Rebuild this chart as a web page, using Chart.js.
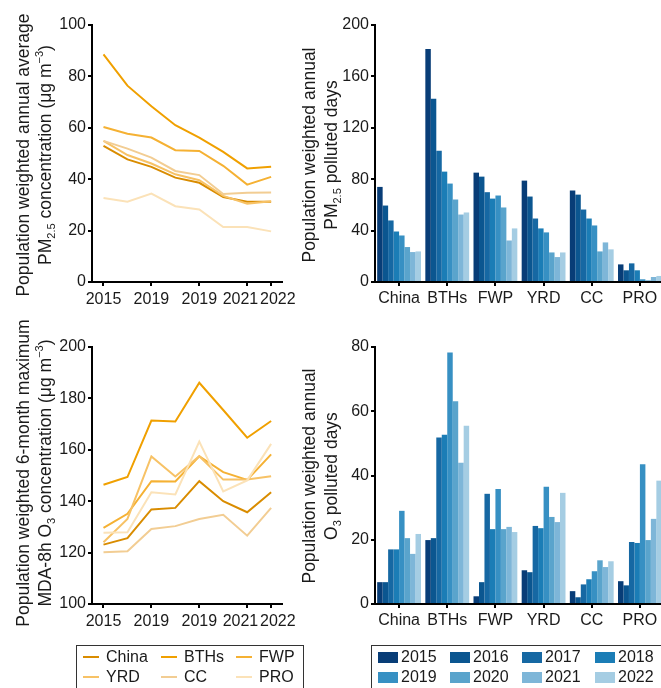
<!DOCTYPE html>
<html>
<head>
<meta charset="utf-8">
<title>PM2.5 and O3 trends</title>
<script src="https://cdn.jsdelivr.net/npm/chart.js"></script>
<style>
  html, body { margin: 0; padding: 0; background: #fff; }
  body { width: 661px; height: 688px; overflow: hidden; position: relative;
         font-family: "Liberation Sans", Arial, sans-serif; color: #1a1a1a; }
  .box { position: absolute; }
  .ytitle { position: absolute; width: 360px; text-align: center; font-size: 17.5px;
            line-height: 22px; transform: translate(-50%, -50%) rotate(-90deg); white-space: nowrap; }
  .ytitle sub, .ytitle sup { font-size: 11px; line-height: 0; vertical-align: baseline; position: relative; }
  .ytitle sub { top: 0.35em; }
  .ytitle sup { top: -0.75em; }
  .legend { position: absolute; border: 1.5px solid #333; font-size: 16px; box-sizing: border-box; }
  .legend .item { position: absolute; height: 20px; display: flex; align-items: center; white-space: nowrap; }
  .legend .line { width: 16px; height: 2px; margin-right: 7px; }
  .legend .sq { width: 20px; height: 11px; margin-right: 3px; }
</style>
</head>
<body>

<div class="box" style="left:50px;top:10px;width:250px;height:300px"><canvas id="pmConc" width="250" height="300"></canvas></div>
<div class="box" style="left:335px;top:10px;width:329px;height:300px"><canvas id="pmDays" width="329" height="300"></canvas></div>
<div class="box" style="left:50px;top:332px;width:250px;height:300px"><canvas id="o3Conc" width="250" height="300"></canvas></div>
<div class="box" style="left:335px;top:332px;width:329px;height:300px"><canvas id="o3Days" width="329" height="300"></canvas></div>

<div class="ytitle" style="left:34px;top:155px">Population weighted annual average<br>PM<sub>2.5</sub> concentration (μg m<sup>−3</sup>)</div>
<div class="ytitle" style="left:320px;top:155px">Population weighted annual<br>PM<sub>2.5</sub> polluted days</div>
<div class="ytitle" style="left:34px;top:473px">Population weighted 6-month maximum<br>MDA-8h O<sub>3</sub> concentration (μg m<sup>−3</sup>)</div>
<div class="ytitle" style="left:320px;top:476px">Population weighted annual<br>O<sub>3</sub> polluted days</div>

<div class="legend" id="regionLegend" style="left:76px;top:645px;width:228px;height:60px"></div>
<div class="legend" id="yearLegend" style="left:371px;top:645px;width:310px;height:60px"></div>

<script>
const years = ['2015', '2016', '2017', '2018', '2019', '2020', '2021', '2022'];
const lineTickPos = [0, 2, 4, 6, 7];
const lineLabelPos = [0, 2, 4, 5.72, 7.28];
const lineTickLabels = ['2015', '2019', '2019', '2021', '2022'];
const regions = ['China', 'BTHs', 'FWP', 'YRD', 'CC', 'PRO'];
const regionColors = ['#d98c00', '#f0a000', '#f5b133', '#f7c266', '#f2cd93', '#fbe2b8'];
const yearColors = ['#083d77', '#0b5690', '#1668a3', '#1b7db6', '#3790c3', '#5aa4cc', '#7eb6d8', '#a5cde3'];

// population weighted PM2.5 concentration (ug/m3)
const pmChina = [53.0, 47.7, 44.8, 40.6, 38.6, 33.1, 31.2, 31.2];
const pmBTHs  = [88.6, 76.4, 68.4, 61.0, 56.2, 50.6, 44.2, 44.8];
const pmFWP   = [60.3, 57.7, 56.2, 51.3, 51.0, 45.2, 37.9, 40.9];
const pmYRD   = [54.9, 49.4, 46.1, 41.9, 39.6, 33.5, 30.5, 31.4];
const pmCC    = [54.9, 51.9, 48.4, 43.2, 41.6, 34.2, 34.7, 34.8];
const pmPRO   = [32.7, 31.2, 34.4, 29.5, 28.2, 21.4, 21.4, 19.7];

// MDA-8h O3 (ug/m3)
const o3China = [123.1, 125.6, 136.8, 137.4, 147.8, 140.0, 135.7, 143.5];
const o3BTHs  = [146.4, 149.4, 171.4, 171.0, 186.1, 175.5, 164.7, 171.2];
const o3FWP   = [129.6, 135.1, 147.8, 147.7, 157.5, 151.3, 148.3, 158.2];
const o3YRD   = [124.0, 133.1, 157.4, 149.6, 157.5, 148.4, 148.4, 149.7];
const o3CC    = [120.1, 120.5, 129.2, 130.3, 133.1, 134.7, 126.6, 137.4];
const o3PRO   = [127.7, 127.9, 143.5, 142.6, 163.2, 143.8, 148.1, 162.3];

// PM2.5 polluted days, per region, 2015..2022
const pmDaysChina = [74.0, 59.5, 47.9, 39.3, 36.2, 27.2, 23.3, 23.8];
const pmDaysBTHs  = [181.4, 142.6, 102.2, 85.9, 76.6, 64.2, 52.5, 54.1];
const pmDaysFWP   = [85.1, 82.0, 69.9, 64.9, 67.3, 58.0, 32.3, 41.7];
const pmDaysYRD   = [78.9, 66.5, 49.4, 41.7, 38.6, 23.0, 19.4, 23.0];
const pmDaysCC    = [71.2, 68.0, 56.4, 49.4, 44.0, 23.8, 30.8, 25.4];
const pmDaysPRO   = [13.7, 9.1, 14.5, 9.1, 2.1, 1.3, 3.9, 4.7];

// O3 polluted days
const o3DaysChina = [6.8, 6.8, 17.0, 17.0, 29.0, 20.5, 15.6, 21.8];
const o3DaysBTHs  = [19.9, 20.5, 51.8, 52.7, 78.3, 63.1, 44.0, 55.5];
const o3DaysFWP   = [2.4, 6.8, 34.3, 23.3, 35.8, 23.3, 24.0, 22.4];
const o3DaysYRD   = [10.5, 9.9, 24.3, 23.6, 36.5, 27.1, 25.5, 34.6];
const o3DaysCC    = [4.0, 2.1, 6.1, 7.7, 10.2, 13.6, 11.5, 13.3];
const o3DaysPRO   = [7.1, 5.8, 19.3, 19.0, 43.5, 19.9, 26.5, 38.4];

const pmLines = [pmChina, pmBTHs, pmFWP, pmYRD, pmCC, pmPRO];
const o3Lines = [o3China, o3BTHs, o3FWP, o3YRD, o3CC, o3PRO];
const pmDays = [pmDaysChina, pmDaysBTHs, pmDaysFWP, pmDaysYRD, pmDaysCC, pmDaysPRO];
const o3Days = [o3DaysChina, o3DaysBTHs, o3DaysFWP, o3DaysYRD, o3DaysCC, o3DaysPRO];

Chart.defaults.font.family = '"Liberation Sans", Arial, sans-serif';
Chart.defaults.font.size = 16;
Chart.defaults.color = '#1a1a1a';

const axisLook = {
    border: { display: true, color: '#000', width: 2 },
    grid: { display: true, drawOnChartArea: false, drawTicks: true, tickLength: 4, color: '#000', lineWidth: 2 }
};

function yAxis(min, max, step, w) {
    return Object.assign({}, axisLook, {
        min: min, max: max,
        ticks: { stepSize: step, padding: 2 },
        afterFit: s => { s.width = w; }
    });
}

function lineChart(id, series, ymin, ymax) {
    new Chart(document.getElementById(id), {
        type: 'line',
        data: {
            datasets: series.map((vals, i) => ({
                label: regions[i],
                data: vals.map((v, j) => ({ x: j, y: v })),
                borderColor: regionColors[i],
                borderWidth: 2,
                pointRadius: 0,
                tension: 0,
                fill: false
            })).reverse()
        },
        options: {
            responsive: false,
            animation: false,
            devicePixelRatio: 1,
            layout: { padding: { top: 15, right: 10, left: 0, bottom: 0 } },
            plugins: { legend: { display: false }, tooltip: { enabled: false } },
            scales: {
                // axis line + tick marks
                x: Object.assign({}, axisLook, {
                    type: 'linear', min: -0.48, max: 7.44, weight: 0,
                    afterBuildTicks: s => { s.ticks = lineTickPos.map(v => ({ value: v })); },
                    ticks: { autoSkip: false, maxRotation: 0, padding: 0, callback: () => '' },
                    afterFit: s => { s.height = 4; }
                }),
                // year labels, nudged apart at the crowded right end as in the original
                xLab: {
                    type: 'linear', position: 'bottom', min: -0.48, max: 7.44, weight: 1,
                    border: { display: false },
                    grid: { display: false, drawTicks: false },
                    afterBuildTicks: s => { s.ticks = lineLabelPos.map(v => ({ value: v })); },
                    ticks: { autoSkip: false, maxRotation: 0, padding: 4, callback: (v, i) => lineTickLabels[i] },
                    afterFit: s => { s.height = 24; }
                },
                y: yAxis(ymin, ymax, 20, 42)
            }
        }
    });
}

function barChart(id, series, ymax, step) {
    new Chart(document.getElementById(id), {
        type: 'bar',
        data: {
            labels: regions,
            datasets: years.map((yr, k) => ({
                label: yr,
                data: series.map(r => r[k]),
                backgroundColor: yearColors[k],
                borderWidth: 0,
                categoryPercentage: 0.91,
                barPercentage: 1.0
            }))
        },
        options: {
            responsive: false,
            animation: false,
            devicePixelRatio: 1,
            layout: { padding: { top: 15, right: 0, left: 0, bottom: 0 } },
            plugins: { legend: { display: false }, tooltip: { enabled: false } },
            scales: {
                x: Object.assign({}, axisLook, {
                    grid: Object.assign({}, axisLook.grid, { offset: false }),
                    ticks: { autoSkip: false, maxRotation: 0, padding: 3 },
                    afterFit: s => { s.height = 28; }
                }),
                y: yAxis(0, ymax, step, 40)
            }
        }
    });
}

lineChart('pmConc', pmLines, 0, 100);
barChart('pmDays', pmDays, 200, 40);
lineChart('o3Conc', o3Lines, 100, 200);
barChart('o3Days', o3Days, 80, 20);

// legends (3 x 2 lines, 4 x 2 swatches)
const regionCols = [6, 84, 159];
const yearCols = [6, 78, 150, 223];
const rowTops = [1, 21];

const rl = document.getElementById('regionLegend');
regions.forEach((r, i) => {
    const d = document.createElement('div');
    d.className = 'item';
    d.style.left = regionCols[i % 3] + 'px';
    d.style.top = rowTops[Math.floor(i / 3)] + 'px';
    d.innerHTML = '<span class="line" style="background:' + regionColors[i] + '"></span>' + r;
    rl.appendChild(d);
});
const yl = document.getElementById('yearLegend');
years.forEach((y, k) => {
    const d = document.createElement('div');
    d.className = 'item';
    d.style.left = yearCols[k % 4] + 'px';
    d.style.top = rowTops[Math.floor(k / 4)] + 'px';
    d.innerHTML = '<span class="sq" style="background:' + yearColors[k] + '"></span>' + y;
    yl.appendChild(d);
});
</script>
</body>
</html>
